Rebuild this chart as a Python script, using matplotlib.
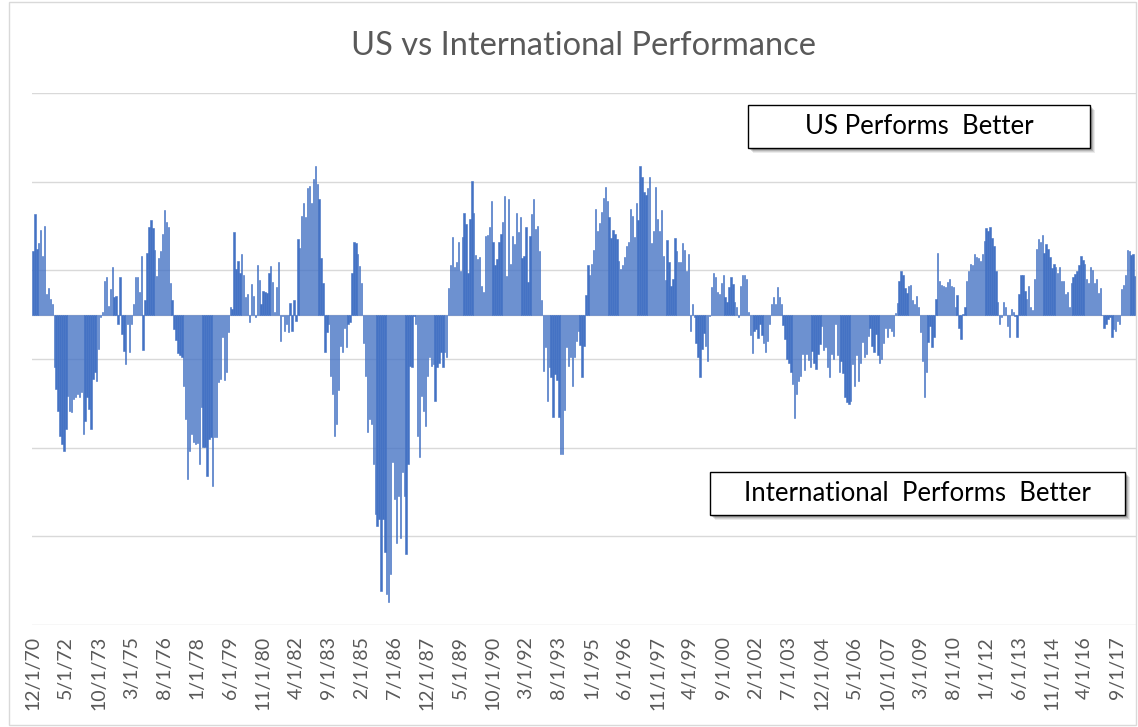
import matplotlib.pyplot as plt
import numpy as np
from matplotlib.patches import Rectangle

# =========================
# DATA
# monthly US minus international return spread (%), starting 12/1970
# values, one block per ~52 months
# =========================
spread_1970_1975 = [14.4, 22.6, 14.8, 16.1, 19.1, 13.3, 20.1, 4.7, 6.1, 3.5, 2.4,
                    -11.9, -16.8, -21.7, -27.3, -29.2, -30.7, -25.8, -18.3, -21.7, -22,
                    -19, -18.6, -17.9, -18.6, -17.5, -26.9, -23.9, -18.6, -21.3, -25.8,
                    -14.5, -13, -14.9, -7.7, -0.6,
                    0.5, 7.7, 8.4, 2, 5.8, 10.7, 3.9, 4.3, -2.1, 8.4, -4.4, -8.1, -11.1,
                    -2.1, -8.5, -2.1, 2.4]
spread_1975_1979 = [8.4, 8.4, 5, 13.3, -8, 3.2, 14, 19.7, 21.4, 19.5, 14.6, 8.8, 12.8,
                    14.3, 18.2, 23.6, 20.8, 19.8, 7.1, 3.2, -3.2, -5.7, -8.7, -9.2, -9.6,
                    -16, -23.5, -37, -30.7, -26.9, -28.8, -29.2, -29, -33.7, -20.9, -29.9,
                    -29.9, -36.3, -28, -27.7, -38.6, -27.7, -27.7, -15.3, -14.5, -5.1,
                    -14.7, -13, -4, 1.7, 1.3, 18.6]
spread_1979_1983 = [10.3, 12.2, 9.5, 13.7, 9, 3.9, 4.7, -1.7, 6.9, 4.1, -0.5, 11.2, 7.8,
                    2.3, 5.4, 5, 4.8, 9.3, 10.9, 7.3, 0.5, 6.3, 11.8, -6, -0.2, -3.6, -2,
                    -3.8, 2.6, -3.6, 3.2, -1.4, 17.1, 15, 22.3, 25.1, 22.1, 28.5, 29.1,
                    25.3, 30.6, 33.6, 29.5, 26.1, 12.8, 7.1, -8.5, -4, -2.1, -13.8, -17.9]
spread_1984_1988 = [-27.3, -24.7, -17.1, -7, -8.5, -2.9, -7.4, -2.1, -1.7, 9.3, 16.3,
                    16.1, 13.7, 11, 7.1, -6.5, -13.8, -26.5, -23.5, -24.7, -33.7, -45,
                    -47.6, -46.1, -62.3, -46.1, -53.6, -63, -64.9, -58.5, -33.3, -41.6,
                    -51.4, -40.8, -50.3, -35.6, -40.8, -54, -33.7, -11.5, -11.9, -0.2,
                    -2.1, -27.3, -32.2, -18.3, -21.7, -25, -13.8, -9.6, -11.5]
spread_1988_1992 = [-11.1, -19.5, -11.9, -11, -8.5, -11.9, -8.5, -9.5, 6, 11.2, 17.6,
                    10.7, 11.8, 16.5, 9.9, 17.6, 22.9, 20.5, 9.3, 21.6, 30.2, 22.9, 13.5,
                    12.5, 12.9, 6.5, 5, 17.8, 18, 19.8, 25.7, 16.5, 11.3, 12.5, 16.5,
                    18.3, 20.8, 26.8, 8.8, 26.1, 11.4, 17.8, 15.9, 22.9, 18.6, 22, 12.8,
                    13.3, 19.7, 7.3, 17.8, 22.6]
spread_1992_1997 = [26.1, 19.3, 20.1, 14.3, 3.2, -12.6, -7.4, -19.5, -11.9, -14.1, -23,
                    -13.4, -14.7, -23, -31.4, -31.4, -21.5, -7.4, -11.5, -9.5, -16, -9.5,
                    -5.9, -3.6, -6.8, -14.1, -7, 4.5, 11.1, 9, 11.4, 14.6, 23.8, 18.8,
                    20.6, 23.2, 26.3, 28.9, 25.7, 22, 17.3, 19.1, 18.3, 17.1, 12, 10.3,
                    11.1, 12.9, 15.6, 16.5, 23.8, 22.3]
spread_1997_2001 = [17.6, 25.3, 21.4, 33.6, 31, 27.6, 27.1, 28.6, 31.1, 16.1, 18.9, 28.9,
                    21.6, 18.9, 23.6, 13.3, 7.8, 16.8, 11.8, 6.5, 8, 17.3, 14.3, 11.8,
                    11.8, 16.1, 14.6, 9.9, 13.7, -3.6, 2.3, -0.6, -6.5, -9.5, -14.1, -7.7,
                    -4.2, -7, -10.4, -0.2, 6.3, 9.5, 8.4, 5, 4.7, 7.1, 9, 3.9, 2.8, 6.2,
                    8.4, 6.9]
spread_2001_2005 = [2.8, 1.7, -0.5, 6.5, 9, 9, 8, 0.5, -4.5, -8.7, -3.6, -3.2, -5.3,
                    -2.1, -4.5, -6.5, -8.5, -5.9, -2.1, 2.3, 3.9, 2.3, 6.2, 3.9, 2.3,
                    -2.3, -5.5, -10, -10.8, -13, -15.6, -23.2, -17.9, -14.9, -13.8, -8.9,
                    -12.5, -8.9, -10.2, -11.9, -8.1, -10.8, -12.3, -8.9, -6.6, -2.5, -8,
                    -7.4, -11.9, -14, -8.9, -10]
spread_2005_2009 = [-2.1, -9.2, -13, -10.4, -13.2, -18.6, -19.8, -20.2, -19.4, -11.1,
                    -16, -9, -14.9, -10.8, -6.2, -9.6, -8.9, -4.7, -2.9, -7, -8.5, -4.4,
                    -9, -11, -10, -6.5, -2.9, -5.1, -2.9, -3.6, -4.7, 0.3, 2.6, 7.7, 9.9,
                    9, 6, 4.8, 6.5, 6.8, 3.3, 2.3, 4.3, 1.8, -4, -10.4, -18.6, -13, -6.2,
                    -2.5, -7.4, -5.1]
spread_2010_2014 = [3.5, 13.8, 7.7, 6.8, 6.5, 6.3, 7.3, 8, 6.5, 6.3, 1.8, 4.5, -2.9,
                    -5.5, 0.2, 1.7, 7.7, 9.9, 11.4, 11.3, 13.7, 13.1, 12.8, 12, 13.7,
                    16.7, 19.5, 18.8, 19.8, 17.3, 15.6, 9.8, 2.8, -2, -0.6, 2.8, 1.7,
                    -2.5, -5.1, 1.3, 0.5, -0.2, -5.1, 4.7, 9, 9, 5.4, 3.5, 6.5, 1.7, 1.1, 8]
spread_2014_2018 = [14.8, 17.1, 16.3, 18, 14, 16, 14.8, 13.1, 10.5, 11.4, 10.8, 9.5,
                    10.8, 7.5, 7.5, 4.7, 5, 1.7, 7.1, 8.4, 9.2, 9.8, 11.1, 13.3, 12.3,
                    11.4, 8, 7.1, 10.8, 10, 7.1, 8, 4.8, 6, 0, -2.9, -2.1, -1, -0.6, -5.1,
                    -3.2, -3.6, -1.4, -2.1, 5.8, 6.8, 9, 14.6, 14.4, 13.5, 13.7, 8.8]

tick_labels = ["12/1/70", "5/1/72", "10/1/73", "3/1/75", "8/1/76", "1/1/78", "6/1/79",
               "11/1/80", "4/1/82", "9/1/83", "2/1/85", "7/1/86", "12/1/87", "5/1/89",
               "10/1/90", "3/1/92", "8/1/93", "1/1/95", "6/1/96", "11/1/97", "4/1/99",
               "9/1/00", "2/1/02", "7/1/03", "12/1/04", "5/1/06", "10/1/07", "3/1/09",
               "8/1/10", "1/1/12", "6/1/13", "11/1/14", "4/1/16", "9/1/17"]
TICK_STEP = 17  # months between labels

title = "US vs International Performance"
us_label = "US Performs  Better"
intl_label = "International  Performs  Better"

# =========================
# STYLE
# =========================
BAR_COLOR = "#4472C4"
GRID_COLOR = "#D9D9D9"
TEXT_COLOR = "#595959"
W, H = 1138, 727

plt.rcParams["font.family"] = ["Lato", "DejaVu Sans"]

values = np.array(spread_1970_1975 + spread_1975_1979 + spread_1979_1983 +
                  spread_1984_1988 + spread_1988_1992 + spread_1992_1997 +
                  spread_1997_2001 + spread_2001_2005 + spread_2005_2009 +
                  spread_2010_2014 + spread_2014_2018)
x = np.arange(len(values))

fig = plt.figure(figsize=(W / 100, H / 100), dpi=100)
ax = fig.add_axes([32 / W, 102 / H, 1104 / W, 532 / H])

ax.bar(x, values, width=0.7, color=BAR_COLOR, edgecolor=BAR_COLOR, linewidth=0.4,
       zorder=2)
ax.axhline(0, color=GRID_COLOR, lw=1, zorder=1)

ax.set_xlim(-0.5, len(values) - 0.5)
ax.set_ylim(-70, 50)
ax.set_yticks(np.arange(-70, 51, 20))
ax.yaxis.grid(True, color=GRID_COLOR, lw=1)
ax.set_axisbelow(True)
ax.tick_params(axis="y", left=False, labelleft=False)

ax.set_xticks(x[::TICK_STEP][:len(tick_labels)])
ax.set_xticklabels(tick_labels, rotation=90, fontsize=14, color=TEXT_COLOR)
ax.tick_params(axis="x", length=0, pad=8)

for s in ax.spines.values():
    s.set_visible(False)

fig.text(0.5125, 1 - 46 / H, title, ha="center", va="center",
         fontsize=23.5, color=TEXT_COLOR)


# =========================
# ANNOTATION BOXES (with soft drop shadow)
# =========================
def label_box(x0, y0, x1, y1, text):
    for k, a in [(5, 0.08), (4, 0.10), (3, 0.14), (2, 0.18)]:
        fig.add_artist(Rectangle(((x0 + k) / W, 1 - (y1 + k) / H), (x1 - x0) / W,
                                 (y1 - y0) / H, transform=fig.transFigure,
                                 facecolor="black", edgecolor="none", alpha=a))
    fig.add_artist(Rectangle((x0 / W, 1 - y1 / H), (x1 - x0) / W, (y1 - y0) / H,
                             transform=fig.transFigure, facecolor="white",
                             edgecolor="black", lw=1))
    fig.text((x0 + x1) / 2 / W, 1 - (y0 + y1) / 2 / H, text, ha="center",
             va="center", fontsize=18.5, color="black")


label_box(748, 105, 1090, 148, us_label)
label_box(710, 472, 1125, 515, intl_label)

# chart border
fig.add_artist(Rectangle((9 / W, 2 / H), 1127 / W, 723 / H, transform=fig.transFigure,
                         facecolor="none", edgecolor=GRID_COLOR, lw=1))

fig.savefig("out.png", dpi=100)
